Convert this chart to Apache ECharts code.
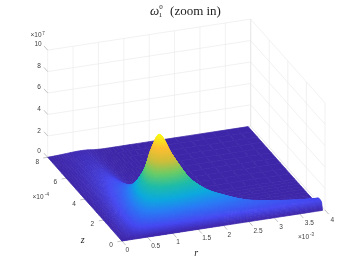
<!DOCTYPE html>
<html><head><meta charset="utf-8">
<style>html,body{margin:0;padding:0;background:#fff}#c{width:360px;height:270px}</style>
<script src="https://cdn.jsdelivr.net/npm/echarts@6/dist/echarts.min.js"></script>
</head><body><div id="c"></div>
<script>
// ---- data ----
const rGrid=[0,.1,.2,.3,.4,.5,.6,.7,.8,.9,1,1.1,1.2,1.35,1.5,1.75,2,2.5,3,3.5,3.95];
const zGrid=[0,.05,.1,.2,.3,.45,.6,.8,1,1.25,1.5,2,2.5,3,4,5,6,7,8];
const omega=[
[0,0,0,0,0,0,0,0,0,0,0,0,0,0,0,0,0,0,0,0,0],
[0,.05,.1,.2,.35,.55,.8,1.05,1.25,1.4,1.45,1.4,1.35,1.25,1.15,1,.9,.7,.6,.5,.4],
[0,.08,.18,.35,.6,.95,1.4,1.9,2.3,2.6,2.7,2.6,2.4,2.2,2,1.7,1.5,1.2,.95,.8,.65],
[0,.12,.28,.55,.95,1.5,2.2,3,3.6,3.9,4,3.8,3.5,3.1,2.75,2.3,1.95,1.45,1.15,.95,.75],
[0,.15,.35,.7,1.2,1.9,2.8,3.7,4.5,4.9,4.9,4.8,4.5,4,3.55,2.95,2.45,1.6,1.25,.95,.75],
[0,.18,.42,.85,1.45,2.3,3.4,4.6,5.5,6,6.1,5.9,5.4,4.65,4,3.1,2.5,1.6,1.15,.85,.7],
[0,.2,.46,.93,1.6,2.55,3.8,5.1,6.2,6.9,7,6.6,5.9,4.75,3.7,2.65,1.95,1.15,.75,.6,.5],
[0,.22,.5,1,1.72,2.75,4.05,5.5,6.9,7.8,7.7,6.6,5.4,3.9,2.7,1.6,1.1,.5,.35,.28,.22],
[0,.23,.52,1.03,1.78,2.8,4.1,5.6,7.2,8.3,7.6,5.7,4,2.5,1.5,.75,.35,.18,.1,.08,.06],
[0,.23,.52,1.02,1.75,2.7,3.9,5.2,6.7,7,5.3,3.1,2.1,1.1,.5,.2,.1,.06,.04,.03,.02],
[0,.22,.5,.98,1.65,2.5,3.5,4.6,5.2,4.6,2.9,1.5,.8,.35,.18,.08,.05,.03,.02,.02,.01],
[0,.2,.44,.85,1.4,2.05,2.8,3.4,3.3,2.2,1.1,.5,.25,.12,.07,.04,.03,.02,.01,.01,.01],
[0,.17,.38,.72,1.15,1.65,2.15,2.4,2.1,1.2,.5,.22,.1,.06,.04,.02,.02,.01,.01,.01,.01],
[0,.15,.32,.6,.95,1.3,1.65,1.8,1.4,.7,.3,.12,.06,.04,.02,.02,.01,.01,.01,.01,.01],
[0,.11,.24,.42,.65,.88,1.05,1.05,.75,.35,.13,.05,.03,.02,.01,.01,.01,.01,.01,.01,.01],
[0,.08,.17,.3,.44,.58,.68,.65,.45,.2,.08,.03,.02,.01,.01,.01,.01,.01,.01,.01,.01],
[0,.05,.11,.19,.28,.37,.42,.4,.28,.13,.05,.02,.01,.01,.01,.01,.01,.01,.01,.01,.01],
[0,.03,.07,.12,.17,.22,.26,.25,.18,.09,.04,.02,.01,.01,.01,.01,.01,.01,.01,.01,.01],
[0,.02,.04,.07,.1,.13,.15,.15,.12,.06,.03,.01,.01,.01,.01,.01,.01,.01,.01,.01,.01]
];
const rTicks=[0,.5,1,1.5,2,2.5,3,3.5,4];
const rTickLabels=['0','0.5','1','1.5','2','2.5','3','3.5','4'];
const zTicks=[0,2,4,6,8];
const zTickLabels=['0','2','4','6','8'];
const wTicks=[0,2,4,6,8,10];
const wTickLabels=['0','2','4','6','8','10'];
const parulaStops=[[0,62,38,168],[.1,70,72,240],[.25,42,125,245],[.375,14,170,222],[.5,32,188,170],[.625,105,204,105],[.75,205,190,60],[.875,254,190,50],[1,249,250,20]];
const colourMax=8.3;

// ---- view ----
const O=[122,241], RX=[50.75,-7.75], ZX=[-9.29,-10.46], WY=10.72;
const proj=(r,z,w)=>[O[0]+RX[0]*r+ZX[0]*z, O[1]+RX[1]*r+ZX[1]*z-WY*w];
function parula(v){
  let t=Math.max(0,Math.min(1,v/colourMax));
  for(let i=1;i<parulaStops.length;i++){
    const a=parulaStops[i-1],b=parulaStops[i];
    if(t<=b[0]){const f=(t-a[0])/(b[0]-a[0]);
      return 'rgb('+[1,2,3].map(k=>Math.round(a[k]+(b[k]-a[k])*f)).join(',')+')';}
  }
  return 'rgb(249,250,20)';
}
// smooth curve through the read values (only how the surface is drawn)
function hermite(xs,ys,i,x){
  const n=xs.length;
  const slope=k=>{
    if(k<=0)return (ys[1]-ys[0])/(xs[1]-xs[0]);
    if(k>=n-1)return (ys[n-1]-ys[n-2])/(xs[n-1]-xs[n-2]);
    return (ys[k+1]-ys[k-1])/(xs[k+1]-xs[k-1]);
  };
  const h=xs[i+1]-xs[i],t=(x-xs[i])/h,t2=t*t,t3=t2*t;
  return (2*t3-3*t2+1)*ys[i]+(t3-2*t2+t)*h*slope(i)+(-2*t3+3*t2)*ys[i+1]+(t3-t2)*h*slope(i+1);
}
const colCache={};
function heightAt(i,j,r,z){
  const key=i+'_'+r;
  let col=colCache[key];
  if(!col){col=omega.map(row=>hermite(rGrid,row,i,r));colCache[key]=col;}
  return Math.max(0,hermite(zGrid,col,j,z));
}
const rEnd=4,zEnd=8,wEnd=10;
const gridCol='#e8e8e8', edgeCol='#d6d6d6', tickCol='#9a9a9a';
const segs=[];
function seg(a,b,c){segs.push([a[0],a[1],a[2],b[0],b[1],b[2],c]);}
rTicks.forEach(r=>{seg([r,zEnd,0],[r,zEnd,wEnd],r===rEnd?edgeCol:gridCol);seg([r,0,0],[r,zEnd,0],gridCol);});
zTicks.forEach(z=>{seg([rEnd,z,0],[rEnd,z,wEnd],gridCol);seg([0,z,0],[rEnd,z,0],gridCol);});
wTicks.forEach(w=>{seg([0,zEnd,w],[rEnd,zEnd,w],gridCol);seg([rEnd,zEnd,w],[rEnd,0,w],gridCol);});
const tickSegs=[];
rTicks.forEach(r=>tickSegs.push([r,0,0,r,-.4,0,tickCol]));
zTicks.forEach(z=>tickSegs.push([0,z,0,-.09,z,0,tickCol]));
wTicks.forEach(w=>tickSegs.push([0,zEnd,w,0,zEnd+.4,w,tickCol]));

const rLabelPos=[[127.3,250],[155.7,246],[178,242.3],[206.7,238.7],[229.3,235],[258,231.3],[281,227.3],[309.3,223.3],[332.3,220.3]];
const zLabelPos=[[111,245.3],[92.3,224.3],[74,204],[55.3,182.7],[37.3,162]];
const wLabelPos=[[39,151.7],[39,131],[39,109],[39,87.5],[39,66],[38,44]];
const sans='"Liberation Sans",Arial,sans-serif', serif='"Liberation Serif",serif';
const texts=[];
rTickLabels.forEach((t,i)=>texts.push({t,p:rLabelPos[i]}));
zTickLabels.forEach((t,i)=>texts.push({t,p:zLabelPos[i]}));
wTickLabels.forEach((t,i)=>texts.push({t,p:wLabelPos[i]}));
texts.push({t:'×10',p:[36,35.5]},{t:'7',p:[43.5,33.5],s:4.5});
texts.push({t:'×10',p:[38,197]},{t:'-4',p:[47,195],s:4.5});
texts.push({t:'×10',p:[303.5,237]},{t:'-3',p:[312,234.5],s:4.5});
texts.push({t:'z',p:[82.7,240],f:serif,s:10,i:'italic',c:'#222'},{t:'r',p:[196.3,253.7],f:serif,s:10,i:'italic',c:'#222'});
texts.push({t:'ω',p:[154.5,12],f:serif,s:13,i:'italic',c:'#222'},{t:'0',p:[161,7],f:serif,s:7,c:'#222'},{t:'1',p:[160.5,15.5],f:serif,s:7,c:'#222'},{t:'(zoom in)',p:[195.5,11.5],f:serif,s:13,c:'#222'});

// cells far to near
const cells=[];
for(let j=zGrid.length-2;j>=0;j--)for(let i=rGrid.length-2;i>=0;i--)cells.push([i,j]);

const lineItem=(d)=>(p,api)=>{
  const s=d[api.value(2)];
  const a=api.coord(proj(s[0],s[1],s[2])),b=api.coord(proj(s[3],s[4],s[5]));
  return {type:'line',shape:{x1:a[0],y1:a[1],x2:b[0],y2:b[1]},style:{stroke:s[6],lineWidth:.6}};
};
function renderCell(p,api){
  const i=api.value(0),j=api.value(1);
  const r0=rGrid[i],r1=rGrid[i+1],z0=zGrid[j],z1=zGrid[j+1];
  const vals=[omega[j][i],omega[j][i+1],omega[j+1][i],omega[j+1][i+1]];
  const spread=Math.max(...vals)-Math.min(...vals);
  const n=Math.max(2,Math.min(10,Math.ceil(spread/.12)));
  const h=(u,v)=>heightAt(i,j,r0+(r1-r0)*u,z0+(z1-z0)*v);
  const pt=(u,v)=>api.coord(proj(r0+(r1-r0)*u,z0+(z1-z0)*v,h(u,v)));
  const children=[];
  for(let vi=n-1;vi>=0;vi--)for(let ui=n-1;ui>=0;ui--){
    const u0=ui/n,u1=(ui+1)/n,v0=vi/n,v1=(vi+1)/n;
    const col=parula(h((u0+u1)/2,(v0+v1)/2));
    children.push({type:'polygon',shape:{points:[pt(u0,v0),pt(u1,v0),pt(u1,v1),pt(u0,v1)]},style:{fill:col,stroke:col,lineWidth:.7}});
  }
  return {type:'group',children};
}
function renderText(p,api){
  const o=texts[api.value(2)],q=api.coord(o.p);
  return {type:'text',x:q[0],y:q[1],style:{text:o.t,fill:o.c||'#404040',font:(o.i?o.i+' ':'')+(o.s||6.5)+'px '+(o.f||sans),textAlign:'center',textVerticalAlign:'middle'}};
}
const base={type:'custom',coordinateSystem:'cartesian2d',clip:false,silent:true,animation:false,progressive:0,encode:{x:0,y:1}};
const chart=echarts.init(document.getElementById('c'),null,{renderer:'canvas'});
chart.setOption({
  animation:false,backgroundColor:'#fff',
  grid:{left:0,right:0,top:0,bottom:0},
  xAxis:{type:'value',min:0,max:360,show:false},
  yAxis:{type:'value',min:0,max:270,inverse:true,show:false},
  series:[
    {...base,name:'walls',data:segs.map((s,k)=>[0,0,k]),renderItem:lineItem(segs)},
    {...base,name:'ticks',data:tickSegs.map((s,k)=>[0,0,k]),renderItem:lineItem(tickSegs)},
    {...base,name:'omega',data:cells,renderItem:renderCell},
    {...base,name:'text',data:texts.map((s,k)=>[0,0,k]),renderItem:renderText}
  ]
});
</script></body></html>
